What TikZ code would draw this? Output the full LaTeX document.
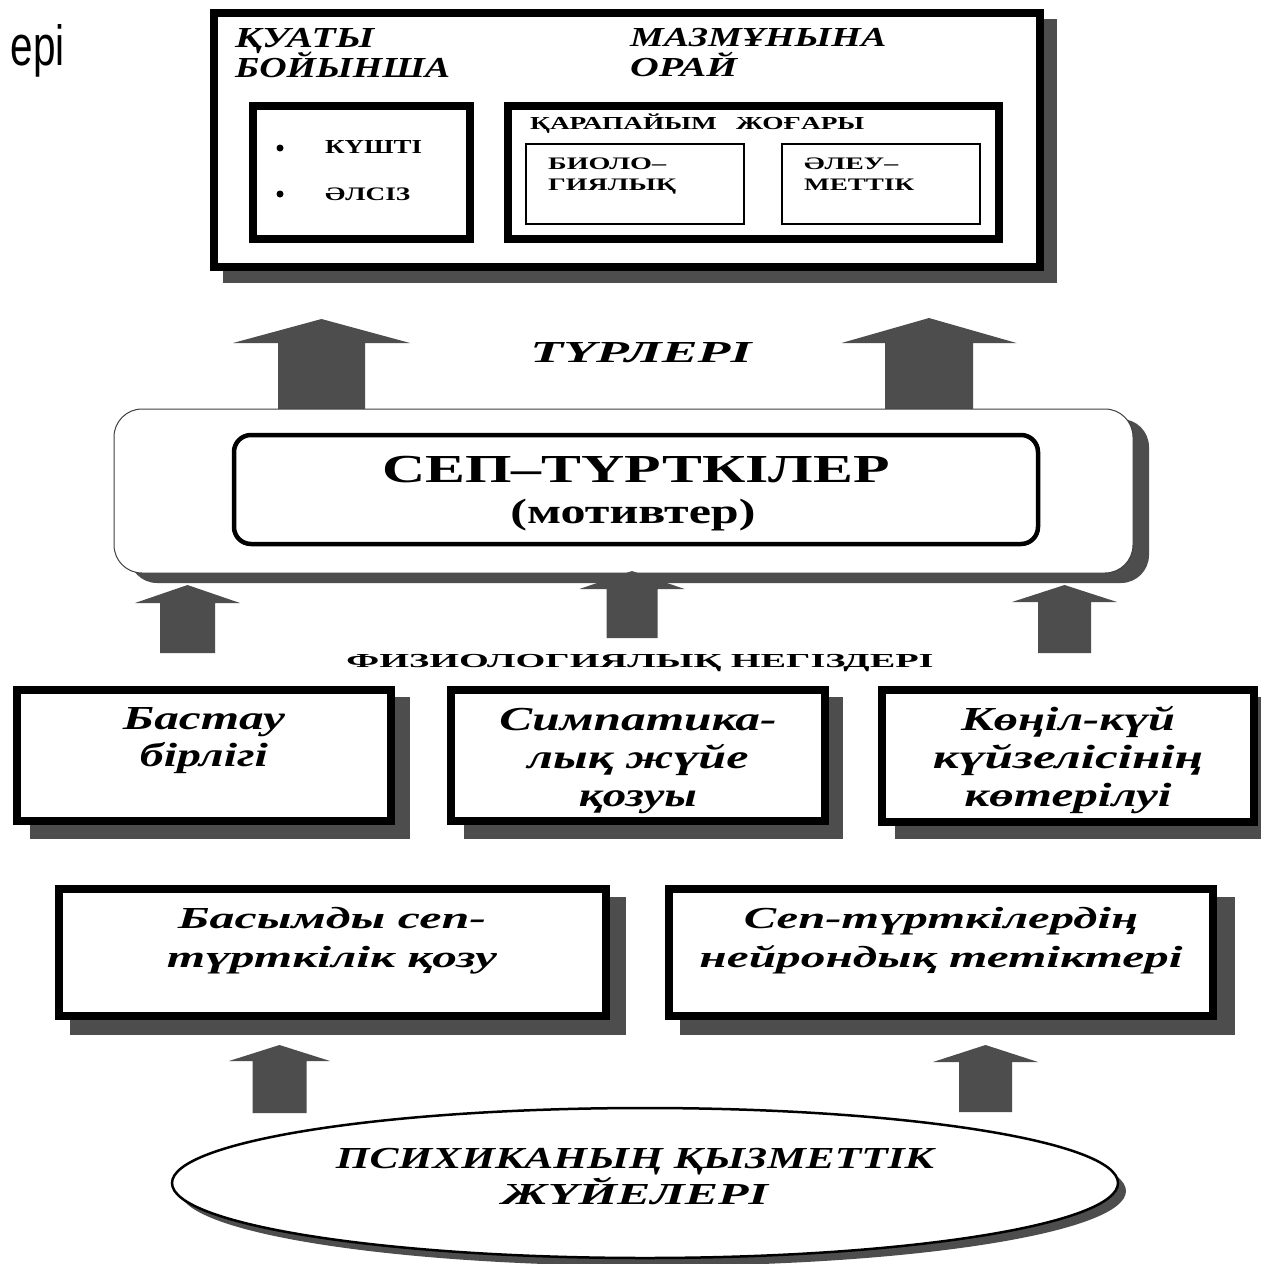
\documentclass[tikz,border=0pt]{standalone}
\usepackage{fontspec}
\setmainfont{Liberation Serif}
\newfontfamily\sansf{Liberation Sans}
\usepackage{graphicx}
\usetikzlibrary{shapes.geometric}
\definecolor{sg}{HTML}{4D4D4D}
\newcommand{\fitbox}[3]{\resizebox{#1pt}{#2pt}{\smash{#3}\vphantom{X}}}
\newcommand{\barrow}[6]{%
  \fill[sg] (#1,#2) -- (#1+#5,#3) -- (#1+#6,#3) -- (#1+#6,#4) -- (#1-#6,#4) -- (#1-#6,#3) -- (#1-#5,#3) -- cycle;}
\tikzset{
  bigbox/.style={draw=black, line width=8pt, fill=white, inner sep=0pt},
  rowbox/.style={draw=black, line width=7.5pt, fill=white, inner sep=0pt},
  thinbox/.style={draw=black, line width=1.5pt, fill=white, inner sep=0pt},
  outerround/.style={draw=black!75, line width=1pt, fill=white, rounded corners=28pt, inner sep=0pt},
  innerround/.style={draw=black, line width=4.5pt, fill=white, rounded corners=17pt, inner sep=0pt},
  ellbox/.style={ellipse, draw=black, line width=2.5pt, fill=white, inner sep=0pt},
  dotmark/.style={circle, fill=black, inner sep=0pt, minimum size=7pt},
  txt/.style={inner sep=0pt, anchor=base},
  txtl/.style={inner sep=0pt, anchor=base west},
  bi/.style={font=\bfseries\itshape},
  bu/.style={font=\bfseries}
}
\begin{document}
\begin{tikzpicture}[x=1pt,y=-1pt]
\useasboundingbox (0,0) rectangle (1261,1264);
\fill[white] (0,0) rectangle (1261,1264);

% slide text at top left
\node[inner sep=0pt, anchor=base east] (slide) at (65,65) {\sansf\resizebox{54pt}{41pt}{ері}};

% shadows
\fill[sg] (223,19) rectangle (1057,283);
\fill[sg, rounded corners=28pt] (129,419) rectangle (1149,583);
\fill[sg] (30,697) rectangle (410,839);
\fill[sg] (464,697) rectangle (843,839);
\fill[sg] (895,697) rectangle (1275,839);
\fill[sg] (70,897) rectangle (626,1035);
\fill[sg] (680,897) rectangle (1235,1035);
\fill[sg] (653,1191) ellipse [x radius=473pt, y radius=75pt];

% boxes
\node[bigbox, minimum width=826, minimum height=254] (types) at (627,140) {};
\node[bigbox, minimum width=217, minimum height=133] (power) at (361.5,172.5) {};
\node[bigbox, minimum width=491, minimum height=133] (content) at (753.5,172.5) {};
\node[thinbox, minimum width=218, minimum height=80] (bio) at (635,184) {};
\node[thinbox, minimum width=198, minimum height=80] (soc) at (881,184) {};

\barrow{321.5}{319}{343}{410}{88.5}{43.5}
\barrow{929}{318}{343}{410}{87.5}{44}

\node[outerround, minimum width=1019, minimum height=164] (outer) at (623.5,491) {};
\node[innerround, minimum width=804, minimum height=109] (motive) at (636,489.5) {};

\barrow{187.5}{585}{603}{653}{52.5}{27.5}
\barrow{632}{571}{589}{638}{52.5}{25.5}
\barrow{1064.5}{585}{602}{653}{52.5}{26.5}

\node[rowbox, minimum width=374, minimum height=131] (b1) at (204,755.5) {};
\node[rowbox, minimum width=374, minimum height=131] (b2) at (638,755.5) {};
\node[rowbox, minimum width=372, minimum height=132] (b3) at (1068,756) {};
\node[rowbox, minimum width=547, minimum height=127] (c1) at (332.5,952.5) {};
\node[rowbox, minimum width=544, minimum height=127] (c2) at (941,952.5) {};

\barrow{279.5}{1045}{1061}{1113}{50.5}{27}
\barrow{985.5}{1045}{1062}{1112}{52.5}{26.5}

\node[ellbox, minimum width=946, minimum height=150] (psy) at (645,1183) {};

% texts, top box
\node[txtl, bi] (q1) at (235,47) {\fitbox{139}{19}{ҚУАТЫ}};
\node[txtl, bi] (q2) at (235,77) {\fitbox{215}{19}{БОЙЫНША}};
\node[txtl, bi] (m1) at (630,46) {\fitbox{256}{18}{МАЗМҰНЫНА}};
\node[txtl, bi] (m2) at (630,76) {\fitbox{107}{18}{ОРАЙ}};
\node[dotmark] (d1) at (280,148) {};
\node[dotmark] (d2) at (280,194) {};
\node[txtl, bu] (k1) at (325,153) {\fitbox{97}{13}{КҮШТІ}};
\node[txtl, bu] (k2) at (325,200) {\fitbox{85}{12.5}{ӘЛСІЗ}};
\node[txtl, bu] (sj) at (530,129) {\fitbox{334}{12}{ҚАРАПАЙЫМ\hspace{0.7em}ЖОҒАРЫ}};
\node[txtl, bu] (bi1) at (548,169) {\fitbox{118}{11.5}{БИОЛО–}};
\node[txtl, bu] (bi2) at (548,190) {\fitbox{128}{11.5}{ГИЯЛЫҚ}};
\node[txtl, bu] (so1) at (804,169) {\fitbox{94}{11.5}{ӘЛЕУ–}};
\node[txtl, bu] (so2) at (804,190) {\fitbox{110}{11.5}{МЕТТІК}};

\node[txt, bi] (tr) at (641,362) {\fitbox{221}{20}{ТҮРЛЕРІ}};
\node[txt, bu] (sep) at (636,482) {\fitbox{507}{26}{СЕП–ТҮРТКІЛЕР}};
\node[txt, bu] (mot) at (633,523) {\fitbox{245}{23}{(мотивтер)}};
\node[txt, bu] (fiz) at (640,667) {\fitbox{587}{13}{ФИЗИОЛОГИЯЛЫҚ НЕГІЗДЕРІ}};

% middle row
\node[txt, bi] (b1a) at (204,729) {\fitbox{162}{22}{Бастау}};
\node[txt, bi] (b1b) at (204,766) {\fitbox{128}{22}{бірлігі}};
\node[txt, bi] (b2a) at (638,730) {\fitbox{277}{22}{Симпатика-}};
\node[txt, bi] (b2b) at (638,768) {\fitbox{221}{22}{лық жүйе}};
\node[txt, bi] (b2c) at (638,806) {\fitbox{118}{22}{қозуы}};
\node[txt, bi] (b3a) at (1068,730) {\fitbox{214}{22}{Көңіл-күй}};
\node[txt, bi] (b3b) at (1068,768) {\fitbox{270}{22}{күйзелісінің}};
\node[txt, bi] (b3c) at (1068,806) {\fitbox{207}{22}{көтерілуі}};

% bottom row
\node[txt, bi] (c1a) at (332,928) {\fitbox{308}{20}{Басымды сеп-}};
\node[txt, bi] (c1b) at (332,967) {\fitbox{330}{20}{түрткілік қозу}};
\node[txt, bi] (c2a) at (941,928) {\fitbox{394}{20}{Сеп-түрткілердің}};
\node[txt, bi] (c2b) at (941,967) {\fitbox{483}{20}{нейрондық тетіктері}};

% ellipse
\node[txt, bi] (e1) at (635,1168) {\fitbox{598}{20}{ПСИХИКАНЫҢ ҚЫЗМЕТТІК}};
\node[txt, bi] (e2) at (635,1204) {\fitbox{266}{20}{ЖҮЙЕЛЕРІ}};
\end{tikzpicture}
\end{document}
